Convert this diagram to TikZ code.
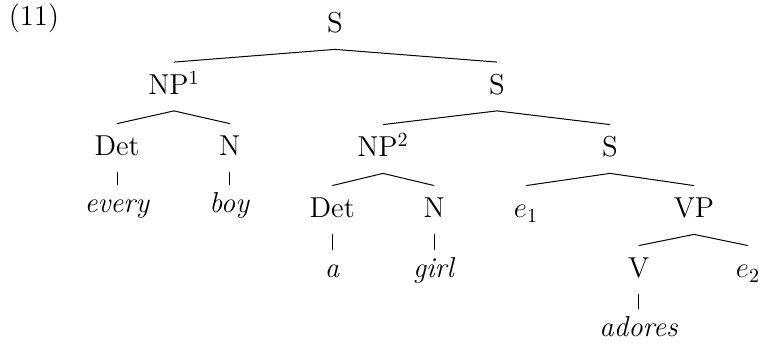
\documentclass[tikz,border=0pt]{standalone}
\begin{document}
\begin{tikzpicture}[x=0.5pt,y=-0.5pt,
  lbl/.style={anchor=base,inner xsep=0pt,inner ysep=5pt,text height=11pt,text depth=3pt,font=\fontsize{14.4}{17}\selectfont},
  term/.style={lbl,text height=9pt},
  edge/.style={line width=0.5pt}]
\useasboundingbox (0,0) rectangle (761,346);
\node[lbl] (ex) at (34,26) {(11)};
\node[lbl] (S1) at (335,33) {S};
\node[lbl] (NP1) at (174,94.5) {NP$^1$};
\node[lbl] (S2) at (497,94.5) {S};
\node[lbl] (Det1) at (117.2,156) {Det};
\node[lbl] (N1) at (229.7,156) {N};
\node[term] (every) at (117.2,213) {\textit{every}};
\node[term] (boy) at (229.7,213) {\textit{boy}};
\node[lbl] (NP2) at (383,157) {NP$^2$};
\node[lbl] (S3) at (610,157) {S};
\node[lbl] (Det2) at (332.2,218) {Det};
\node[lbl] (N2) at (434.2,218) {N};
\node[lbl] (e1) at (526,218) {$e_1$};
\node[lbl] (VP) at (694,218) {VP};
\node[term] (a) at (332.2,278) {\textit{a}};
\node[term] (girl) at (434.2,278) {\textit{girl}};
\node[lbl] (V) at (638.7,278) {V};
\node[lbl] (e2) at (748,278) {$e_2$};
\node[term] (adores) at (638.7,337) {\textit{adores}};
\draw[edge] (NP1.north) -- (S1.south) -- (S2.north);
\draw[edge] (Det1.north) -- (NP1.south) -- (N1.north);
\draw[edge] (Det1.south) -- (every.north);
\draw[edge] (N1.south) -- (boy.north);
\draw[edge] (NP2.north) -- (S2.south) -- (S3.north);
\draw[edge] (Det2.north) -- (NP2.south) -- (N2.north);
\draw[edge] (Det2.south) -- (a.north);
\draw[edge] (N2.south) -- (girl.north);
\draw[edge] (e1.north) -- (S3.south) -- (VP.north);
\draw[edge] (V.north) -- (VP.south) -- (e2.north);
\draw[edge] (V.south) -- (adores.north);
\end{tikzpicture}
\end{document}
